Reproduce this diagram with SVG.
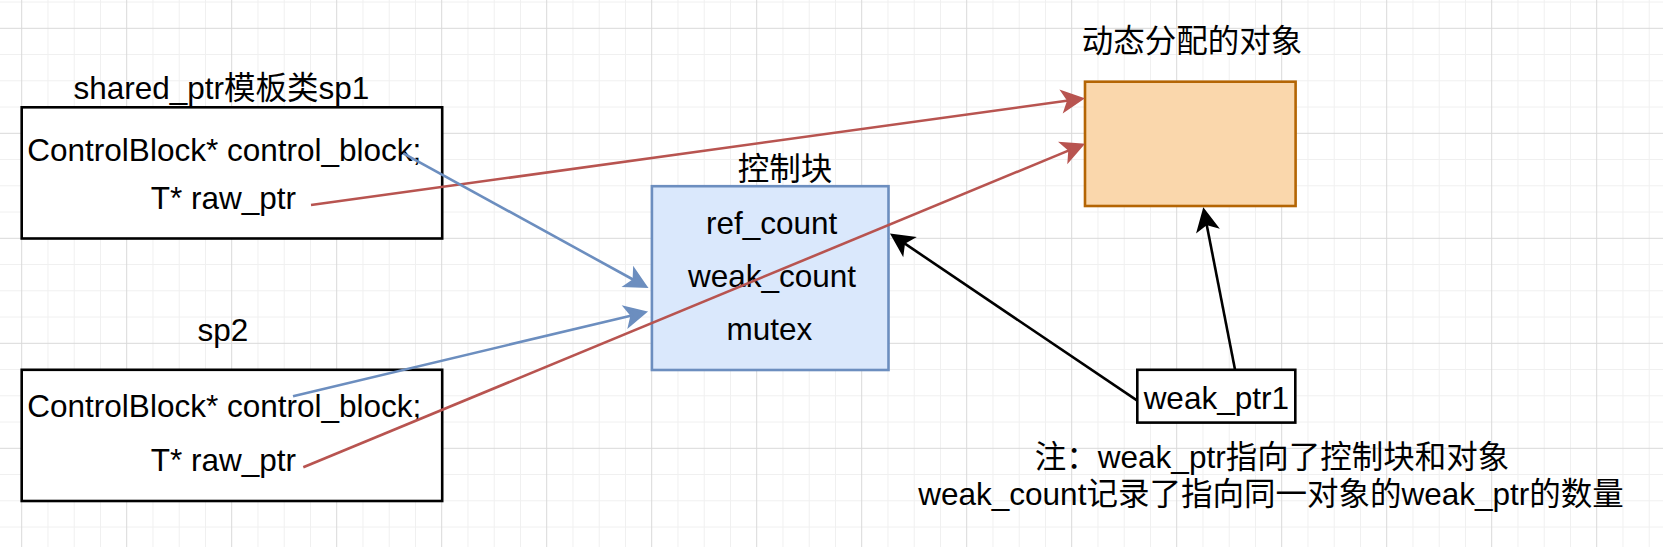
<svg xmlns="http://www.w3.org/2000/svg" width="1663" height="547" viewBox="0 0 1663 547">
<style>
text{font-family:"Liberation Sans","Noto Sans CJK SC",sans-serif;font-size:31.5px;fill:#000;text-anchor:middle}
.minor{stroke:#f0f0f0;stroke-width:1;fill:none}
.major{stroke:#d9d9d9;stroke-width:1;fill:none}
.box{fill:#fff;stroke:#000;stroke-width:2.6}
.edge{fill:none;stroke-width:2.6}
.red{stroke:#b85450}
.blue{stroke:#6c8ebf}
.black{stroke:#000}
</style>
<defs>
<marker id="arR" markerUnits="userSpaceOnUse" orient="auto" refX="0" refY="0" markerWidth="20" markerHeight="20" overflow="visible"><path d="M13.8,0 L-4.6,-9.2 L0,0 L-4.6,9.2 Z" fill="#b85450" stroke="#b85450" stroke-width="2.6"/></marker>
<marker id="arB" markerUnits="userSpaceOnUse" orient="auto" refX="0" refY="0" markerWidth="20" markerHeight="20" overflow="visible"><path d="M13.8,0 L-4.6,-9.2 L0,0 L-4.6,9.2 Z" fill="#6c8ebf" stroke="#6c8ebf" stroke-width="2.6"/></marker>
<marker id="arK" markerUnits="userSpaceOnUse" orient="auto" refX="0" refY="0" markerWidth="20" markerHeight="20" overflow="visible"><path d="M13.8,0 L-4.6,-9.2 L0,0 L-4.6,9.2 Z" fill="#000" stroke="#000" stroke-width="2.6"/></marker>
</defs>
<rect x="0" y="0" width="1663" height="547" fill="#fff"/>
<g id="grid">
<path class="minor" d="M47.95,0V547M74.2,0V547M100.45,0V547M152.95,0V547M179.2,0V547M205.45,0V547M257.95,0V547M284.2,0V547M310.45,0V547M362.95,0V547M389.2,0V547M415.45,0V547M467.95,0V547M494.2,0V547M520.45,0V547M572.95,0V547M599.2,0V547M625.45,0V547M677.95,0V547M704.2,0V547M730.45,0V547M782.95,0V547M809.2,0V547M835.45,0V547M887.95,0V547M914.2,0V547M940.45,0V547M992.95,0V547M1019.2,0V547M1045.45,0V547M1097.95,0V547M1124.2,0V547M1150.45,0V547M1202.95,0V547M1229.2,0V547M1255.45,0V547M1307.95,0V547M1334.2,0V547M1360.45,0V547M1412.95,0V547M1439.2,0V547M1465.45,0V547M1517.95,0V547M1544.2,0V547M1570.45,0V547M1622.95,0V547M1649.2,0V547M0,2.05H1663M0,54.55H1663M0,80.8H1663M0,107.05H1663M0,159.55H1663M0,185.8H1663M0,212.05H1663M0,264.55H1663M0,290.8H1663M0,317.05H1663M0,369.55H1663M0,395.8H1663M0,422.05H1663M0,474.55H1663M0,500.8H1663M0,527.05H1663"/>
<path class="major" d="M21.7,0V547M126.7,0V547M231.7,0V547M336.7,0V547M441.7,0V547M546.7,0V547M651.7,0V547M756.7,0V547M861.7,0V547M966.7,0V547M1071.7,0V547M1176.7,0V547M1281.7,0V547M1386.7,0V547M1491.7,0V547M1596.7,0V547M0,28.3H1663M0,133.3H1663M0,238.3H1663M0,343.3H1663M0,448.3H1663"/>
</g>
<g id="sp1">
<text x="221.4" y="99">shared_ptr模板类sp1</text>
<rect class="box" x="21.7" y="107.3" width="420.5" height="131.2"/>
<text x="224.3" y="161">ControlBlock* control_block;</text>
<text x="223.3" y="209">T* raw_ptr</text>
</g>
<g id="sp2">
<text x="223" y="340.7">sp2</text>
<rect class="box" x="21.7" y="369.8" width="420.5" height="131.2"/>
<text x="224.3" y="417.3">ControlBlock* control_block;</text>
<text x="223.3" y="471">T* raw_ptr</text>
</g>
<g id="control-block">
<text x="785" y="179.5">控制块</text>
<rect x="651.9" y="186.2" width="236.6" height="183.8" fill="#dae8fc" stroke="#6c8ebf" stroke-width="2.6"/>
<text x="771.7" y="234.3">ref_count</text>
<text x="772" y="286.7">weak_count</text>
<text x="769.3" y="340">mutex</text>
</g>
<g id="object">
<text x="1192" y="52">动态分配的对象</text>
<rect x="1085" y="81.7" width="210.6" height="124.3" fill="#fad7ac" stroke="#b46504" stroke-width="2.6"/>
</g>
<g id="weak_ptr1">
<rect class="box" x="1137.3" y="369.8" width="158" height="52.8"/>
<text x="1216.3" y="409">weak_ptr1</text>
</g>
<g id="note">
<text x="1272" y="468">注：weak_ptr指向了控制块和对象</text>
<text x="1271" y="505">weak_count记录了指向同一对象的weak_ptr的数量</text>
</g>
<g id="connectors">
<path class="edge red" d="M311,205 L1068.5,100.5" marker-end="url(#arR)"/>
<path class="edge red" d="M303.3,467.3 L1069.6,150.1" marker-end="url(#arR)"/>
<path class="edge blue" d="M403.3,153.3 L633.9,280" marker-end="url(#arB)"/>
<path class="edge blue" d="M293,396.3 L631.8,315.4" marker-end="url(#arB)"/>
<path class="edge black" d="M1137.3,400.7 L903.8,242.9" marker-end="url(#arK)"/>
<path class="edge black" d="M1235,369.5 L1206.5,223.7" marker-end="url(#arK)"/>
</g>
</svg>
